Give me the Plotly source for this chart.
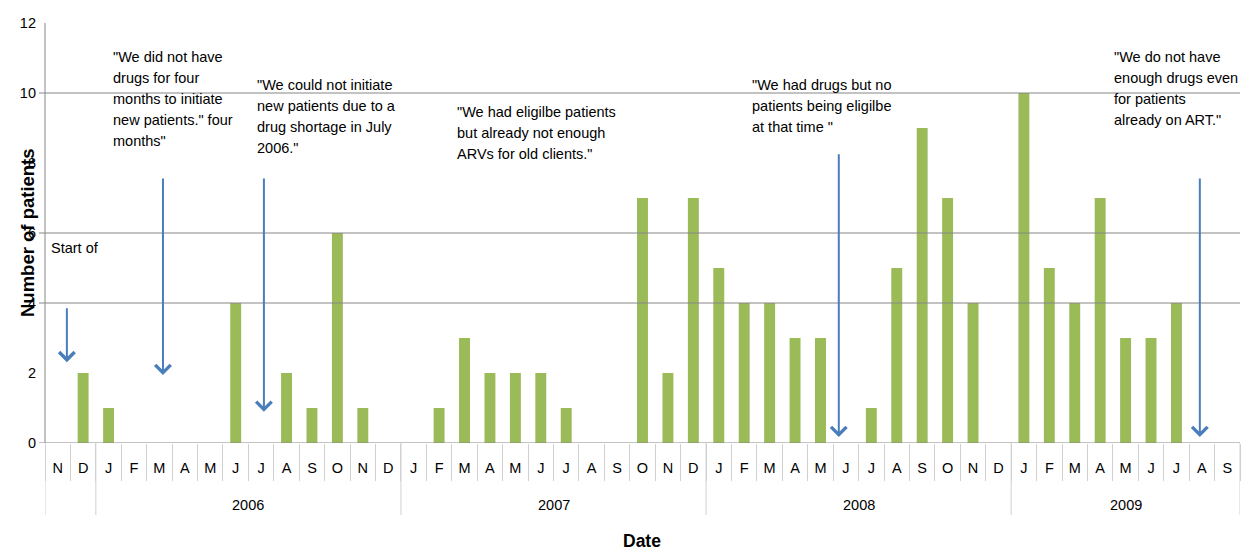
import plotly.graph_objects as go

# Monthly counts of patients initiated, Nov 2005 - Sep 2009
month_labels = (["N", "D"]
                + ["J", "F", "M", "A", "M", "J", "J", "A", "S", "O", "N", "D"] * 3
                + ["J", "F", "M", "A", "M", "J", "J", "A", "S"])
patients = [0, 2,
            1, 0, 0, 0, 0, 4, 0, 2, 1, 6, 1, 0,
            0, 1, 3, 2, 2, 2, 1, 0, 0, 7, 2, 7,
            5, 4, 4, 3, 3, 0, 1, 5, 9, 7, 4, 0,
            10, 5, 4, 7, 3, 3, 4, 0, 0]
# Year groups: (label, number of months in the group)
year_groups = [("", 2), ("2006", 12), ("2007", 12), ("2008", 12), ("2009", 9)]

grid_levels = [0, 4, 6, 10]

# Quotes: (left px, first line centre px, lines)
quotes = [
    (111, 57, ['"We did not have', 'drugs for four', 'months to initiate',
               'new patients." four', 'months"']),
    (255, 85, ['"We could not initiate', 'new patients due to a',
               'drug shortage in July', '2006."']),
    (49, 248, ['Start of']),
    (455, 112, ['"We had eligilbe patients', 'but already not enough',
                'ARVs for old clients."']),
    (750, 85, ['"We had drugs but no', 'patients being eligilbe',
               'at that time "']),
    (1112, 57, ['"We do not have', 'enough drugs even', 'for patients',
                'already on ART."']),
]

# Arrows: (month index position, tail value, head value)
arrows = [
    (0.36, 3.89, 2.31),
    (4.14, 7.6, 1.94),
    (8.11, 7.6, 0.89),
    (30.72, 8.29, 0.17),
    (44.92, 7.6, 0.17),
]

W, H = 1243, 554
L, R, T, B = 45, 3, 23, 111
PW, PH = W - L - R, H - T - B
FONT = "Liberation Sans, Arial, sans-serif"
GREEN = "#9BBB59"
BLUE = "#4A7EBB"
GRID = "#868686"
LIGHT = "#D0D0D0"

n = len(patients)
idx = list(range(n))
boundaries = [i - 0.5 for i in range(n + 1)]

fig = go.Figure()
fig.add_trace(go.Bar(x=idx, y=patients, marker_color=GREEN,
                     marker_line_width=0, showlegend=False))


def px_y(py):
    return (H - B - py) / PH


annotations = []
line_h = 21
for px, py, lines in quotes:
    for k, txt in enumerate(lines):
        annotations.append(dict(
            text=txt, xref="paper", yref="paper",
            x=(px - L) / PW, y=px_y(py + k * line_h),
            xanchor="left", yanchor="middle", showarrow=False,
            font=dict(family=FONT, size=14.5, color="#000")))

for xi, tail, head in arrows:
    annotations.append(dict(
        text="", x=xi, y=head, ax=xi, ay=tail, xref="x", yref="y",
        axref="x", ayref="y", showarrow=True, arrowhead=4, arrowsize=1.5,
        arrowwidth=2, arrowcolor=BLUE, standoff=0))

# Year labels under the month row, with dividers between the groups
shapes = []
start = 0
for label, count in year_groups:
    centre = start + (count - 1) / 2
    if label:
        annotations.append(dict(
            text=label, x=centre, xref="x", yref="paper", y=px_y(505),
            xanchor="center", yanchor="middle", showarrow=False,
            font=dict(family=FONT, size=14.5, color="#000")))
    shapes.append(dict(type="line", xref="x", yref="paper",
                       x0=start - 0.5, x1=start - 0.5, y0=0, y1=px_y(515),
                       line=dict(color=LIGHT, width=1)))
    start += count
shapes.append(dict(type="line", xref="x", yref="paper",
                   x0=start - 0.5, x1=start - 0.5, y0=0, y1=px_y(515),
                   line=dict(color=LIGHT, width=1)))

annotations.append(dict(
    text="<b>Number of patients</b>", xref="paper", yref="paper",
    x=(27 - L) / PW, y=0.5, xanchor="center", yanchor="middle",
    textangle=-90, showarrow=False,
    font=dict(family=FONT, size=18.5, color="#000")))
annotations.append(dict(
    text="<b>Date</b>", xref="paper", yref="paper",
    x=(642 - L) / PW, y=px_y(541), xanchor="center",
    yanchor="middle", showarrow=False, borderpad=0,
    font=dict(family=FONT, size=17.5, color="#000")))

for g in grid_levels:
    shapes.append(dict(type="line", xref="paper", yref="y",
                       x0=-6 / PW, x1=1, y0=g, y1=g,
                       line=dict(color=GRID, width=1)))
shapes.append(dict(type="line", xref="paper", yref="paper",
                   x0=0, x1=0, y0=0, y1=1, line=dict(color=GRID, width=1)))

fig.update_layout(
    width=W, height=H,
    margin=dict(l=L, r=R, t=T, b=B, autoexpand=False),
    plot_bgcolor="white", paper_bgcolor="white",
    bargap=0.57,
    font=dict(family=FONT, size=15, color="#000"),
    xaxis=dict(range=[-0.5, n - 0.5], tickmode="array", tickvals=idx,
               ticktext=month_labels, ticks="", showgrid=False,
               zeroline=False, showline=False, ticklabelstandoff=14,
               tickfont=dict(family=FONT, size=14.5, color="#000"),
               minor=dict(tickmode="array", tickvals=boundaries,
                          ticks="outside", ticklen=37, tickcolor=LIGHT,
                          tickwidth=1, showgrid=False)),
    yaxis=dict(range=[0, 12], dtick=2, showgrid=False, zeroline=False,
               showline=False, ticks="", ticklabelstandoff=8,
               tickfont=dict(family=FONT, size=14.5, color="#000")),
    shapes=shapes,
    annotations=annotations,
)

fig.write_html("out.html")
